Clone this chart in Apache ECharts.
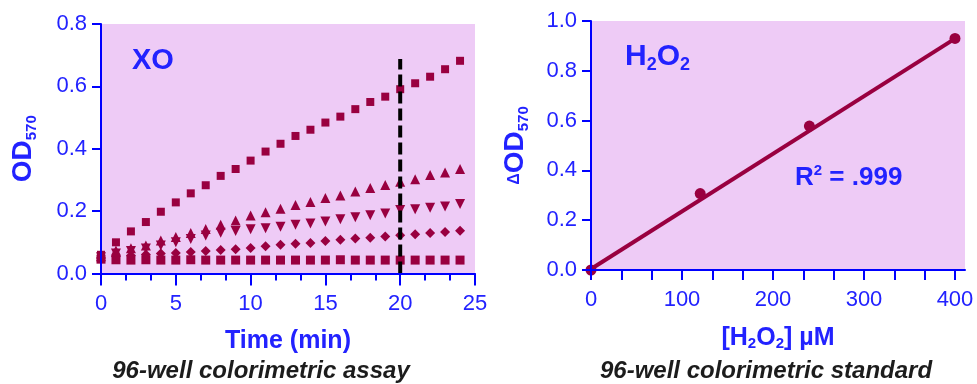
<!DOCTYPE html>
<html>
<head>
<meta charset="utf-8">
<script src="https://cdn.jsdelivr.net/npm/echarts@6/dist/echarts.min.js"></script>
<style>
html,body{margin:0;padding:0;background:#fff;}
#c{width:977px;height:384px;}
</style>
</head>
<body>
<div id="c"></div>
<script>
// ---- Data: XO kinetic assay (OD570 vs time) ----
var timeMin = [0,1,2,3,4,5,6,7,8,9,10,11,12,13,14,15,16,17,18,19,20,21,22,23,24];
var xoHigh = [0.060,0.100,0.135,0.165,0.198,0.228,0.257,0.283,0.313,0.335,0.362,0.391,0.416,0.441,0.461,0.484,0.503,0.527,0.550,0.567,0.591,0.610,0.631,0.655,0.682];
var xoMid = [0.055,0.074,0.081,0.090,0.106,0.117,0.130,0.143,0.156,0.170,0.186,0.196,0.208,0.220,0.229,0.242,0.250,0.263,0.274,0.284,0.294,0.302,0.316,0.324,0.335];
var xoLow = [0.052,0.064,0.072,0.080,0.090,0.100,0.111,0.122,0.131,0.136,0.142,0.145,0.150,0.156,0.160,0.167,0.174,0.180,0.187,0.192,0.204,0.206,0.211,0.215,0.223];
var xoLower = [0.050,0.055,0.058,0.061,0.064,0.066,0.069,0.072,0.075,0.078,0.082,0.087,0.092,0.095,0.098,0.104,0.108,0.112,0.115,0.119,0.123,0.126,0.130,0.133,0.137];
var xoBlank = [0.046,0.044,0.043,0.044,0.043,0.043,0.044,0.043,0.043,0.043,0.043,0.043,0.043,0.043,0.043,0.043,0.044,0.043,0.043,0.043,0.043,0.043,0.043,0.043,0.043];
var cutoffX = [20, 20];
var cutoffY = [0, 0.688];

// ---- Data: H2O2 standard curve ----
var h2o2Conc = [0, 120, 240, 400];
var h2o2dOD = [0, 0.307, 0.578, 0.930];
var fitX = [0, 400];
var fitY = [0.004, 0.929];

// ---- Tick labels ----
var timeTicks = [0, 5, 10, 15, 20, 25];
var odTicks = ['0.0', '0.2', '0.4', '0.6', '0.8'];
var concLabels = [0, 100, 200, 300, 400];
var concTicks = [0, 33.33, 66.67, 100, 133.33, 166.67, 200, 233.33, 266.67, 300, 333.33, 366.67, 400];
var dodTicks = ['0.0', '0.2', '0.4', '0.6', '0.8', '1.0'];

var BLUE = '#0000ff';
var TXT = '#2222ff';
var MAROON = '#990040';
var BG = '#eecbf6';
var FONT = '"Liberation Sans", Arial, Helvetica, sans-serif';

function pairs(xs, ys) { return xs.map(function (x, i) { return [x, ys[i]]; }); }

var subRich = {
  n: { fontFamily: FONT, fontSize: 30, fontWeight: 'bold', color: TXT, lineHeight: 34 },
  s: { fontFamily: FONT, fontSize: 18, fontWeight: 'bold', color: TXT, lineHeight: 18, verticalAlign: 'bottom' }
};

function axisCommon(gridIndex) {
  return {
    gridIndex: gridIndex,
    type: 'value',
    z: 5,
    splitLine: { show: false },
    axisLine: { show: true, onZero: false, lineStyle: { color: BLUE, width: 2 } },
    axisLabel: { color: TXT, fontSize: 22, fontFamily: FONT },
    axisTick: { show: true, length: 9, lineStyle: { color: BLUE, width: 2 } }
  };
}

var x0 = axisCommon(0);
Object.assign(x0, {
  min: timeTicks[0], max: timeTicks[timeTicks.length - 1], interval: 5,
  name: 'Time (min)', nameLocation: 'middle', nameGap: 55,
  nameTextStyle: { color: TXT, fontSize: 25, fontWeight: 'bold', fontFamily: FONT },
  minorTick: { show: true, splitNumber: 3, length: 7, lineStyle: { color: BLUE, width: 2 } },
  minorSplitLine: { show: false }
});
x0.axisTick.length = 12;
x0.axisLabel.margin = 19;

var y0 = axisCommon(0);
Object.assign(y0, {
  min: 0, max: 0.8, interval: 0.2,
  name: '{b|OD}{s|570}', nameLocation: 'middle', nameGap: 62, nameRotate: 90,
  nameTextStyle: { rich: {
    b: { fontFamily: FONT, fontSize: 28, fontWeight: 'bold', color: TXT, lineHeight: 32 },
    s: { fontFamily: FONT, fontSize: 15, fontWeight: 'bold', color: TXT, lineHeight: 15, verticalAlign: 'bottom' }
  } }
});
y0.axisLabel.margin = 14;
y0.axisLabel.formatter = function (v) { return odTicks[Math.round(v / 0.2)]; };

var x1 = axisCommon(1);
Object.assign(x1, {
  min: 0, max: 411, interval: 100,
  name: '[H{s|2}O{s|2}] µM', nameLocation: 'middle', nameGap: 56,
  nameTextStyle: { color: TXT, fontSize: 25, fontWeight: 'bold', fontFamily: FONT, rich: {
    s: { fontFamily: FONT, fontSize: 15, fontWeight: 'bold', color: TXT, lineHeight: 15, verticalAlign: 'bottom' }
  } }
});
x1.axisLabel.margin = 19;
x1.axisLabel.customValues = concLabels;
x1.axisLabel.formatter = function (v) { return concLabels.indexOf(v) >= 0 ? String(v) : ''; };
x1.axisTick.customValues = concTicks;
x1.axisTick.length = 10;

var y1 = axisCommon(1);
Object.assign(y1, {
  min: 0, max: 1, interval: 0.2,
  name: '{d|Δ}{b|OD}{s|570}', nameLocation: 'middle', nameGap: 60, nameRotate: 90,
  nameTextStyle: { rich: {
    d: { fontFamily: FONT, fontSize: 16, fontWeight: 'bold', color: TXT, lineHeight: 16 },
    b: { fontFamily: FONT, fontSize: 28, fontWeight: 'bold', color: TXT, lineHeight: 32 },
    s: { fontFamily: FONT, fontSize: 15, fontWeight: 'bold', color: TXT, lineHeight: 15, verticalAlign: 'bottom' }
  } }
});
y1.axisLabel.margin = 14;
y1.axisLabel.formatter = function (v) { return dodTicks[Math.round(v / 0.2)]; };

function scatter(name, data, symbol, size, rotate) {
  return {
    name: name, type: 'scatter', xAxisIndex: 0, yAxisIndex: 0,
    data: pairs(timeMin, data), symbol: symbol, symbolSize: size, symbolRotate: rotate || 0,
    itemStyle: { color: MAROON, opacity: 1 }, z: 2, clip: false
  };
}

var option = {
  animation: false,
  backgroundColor: '#ffffff',
  grid: [
    { left: 101, top: 24, width: 374, height: 249.5, show: true, backgroundColor: BG, borderWidth: 0, containLabel: false, outerBoundsMode: 'none' },
    { left: 591, top: 21, width: 374, height: 249, show: true, backgroundColor: BG, borderWidth: 0, containLabel: false, outerBoundsMode: 'none' }
  ],
  xAxis: [x0, x1],
  yAxis: [y0, y1],
  title: [
    { text: 'XO', left: 127, top: 41, textStyle: { fontFamily: FONT, fontSize: 29, fontWeight: 'bold', color: TXT } },
    { text: '{n|H}{s|2}{n|O}{s|2}', left: 620, top: 35, textStyle: { rich: subRich } },
    { text: '{n|R}{p|2}{n| = .999}', left: 790, top: 158, textStyle: { rich: {
      n: { fontFamily: FONT, fontSize: 26, fontWeight: 'bold', color: TXT, lineHeight: 30 },
      p: { fontFamily: FONT, fontSize: 15, fontWeight: 'bold', color: TXT, lineHeight: 15, verticalAlign: 'top' }
    } } },
    { text: '96-well colorimetric assay', left: 256, top: 354, textAlign: 'center',
      textStyle: { fontFamily: FONT, fontSize: 24, fontWeight: 'bold', fontStyle: 'italic', color: '#1c1c1c' } },
    { text: '96-well colorimetric standard', left: 761, top: 354, textAlign: 'center',
      textStyle: { fontFamily: FONT, fontSize: 24, fontWeight: 'bold', fontStyle: 'italic', color: '#1c1c1c' } }
  ],
  series: [
    scatter('blank', xoBlank, 'rect', 9),
    scatter('low2', xoLower, 'diamond', 10),
    scatter('low', xoLow, 'triangle', 10, 180),
    scatter('mid', xoMid, 'triangle', 10),
    scatter('high', xoHigh, 'rect', 8),
    {
      name: 'cutoff', type: 'line', xAxisIndex: 0, yAxisIndex: 0,
      data: pairs(cutoffX, cutoffY), showSymbol: false, symbol: 'none', z: 4,
      lineStyle: { color: '#000000', width: 4, type: [12, 5] }
    },
    {
      name: 'fit', type: 'line', xAxisIndex: 1, yAxisIndex: 1,
      data: pairs(fitX, fitY), showSymbol: false, symbol: 'none', z: 2,
      lineStyle: { color: MAROON, width: 4 }
    },
    {
      name: 'std', type: 'scatter', xAxisIndex: 1, yAxisIndex: 1,
      data: pairs(h2o2Conc, h2o2dOD), symbol: 'circle', symbolSize: 11, z: 3,
      itemStyle: { color: MAROON, opacity: 1 }, clip: false
    }
  ]
};

var chart = echarts.init(document.getElementById('c'), null, { renderer: 'canvas' });
chart.setOption(option);
</script>
</body>
</html>
